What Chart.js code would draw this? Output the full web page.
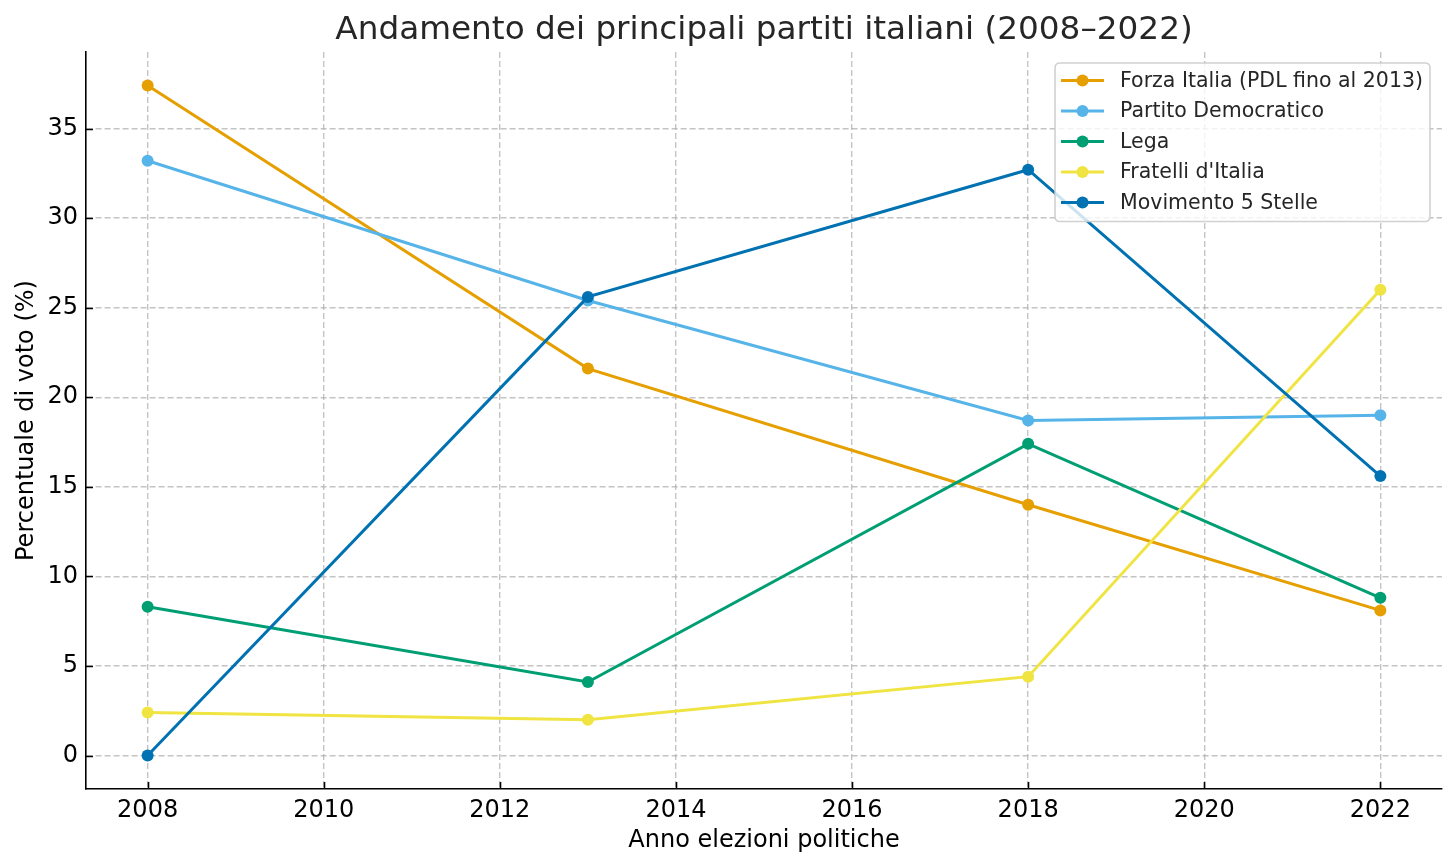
<!DOCTYPE html>
<html>
<head>
<meta charset="utf-8">
<script src="https://cdn.jsdelivr.net/npm/chart.js@4.4.1/dist/chart.umd.min.js"></script>
<style>
  html, body { margin: 0; padding: 0; background: #ffffff; }
  #wrap { width: 1456px; height: 868px; }
</style>
</head>
<body>
<div id="wrap"><canvas id="c" width="1456" height="868"></canvas></div>
<script>
// ---- data ----
const years = [2008, 2013, 2018, 2022];
const seriesNames = ["Forza Italia (PDL fino al 2013)", "Partito Democratico", "Lega", "Fratelli d'Italia", "Movimento 5 Stelle"];
const forzaItalia = [37.4, 21.6, 14.0, 8.1];
const partitoDemocratico = [33.2, 25.4, 18.7, 19.0];
const lega = [8.3, 4.1, 17.4, 8.8];
const fratelliItalia = [2.4, 2.0, 4.4, 26.0];
const movimento5Stelle = [0, 25.6, 32.7, 15.6];
const xTickValues = [2008, 2010, 2012, 2014, 2016, 2018, 2020, 2022];
const yTickValues = [0, 5, 10, 15, 20, 25, 30, 35];
const chartTitle = "Andamento dei principali partiti italiani (2008\u20132022)";
const xTitle = "Anno elezioni politiche";
const yTitle = "Percentuale di voto (%)";

const colors = ["#E69F00", "#56B4E9", "#009E73", "#F0E442", "#0072B2"];
const allSeries = [forzaItalia, partitoDemocratico, lega, fratelliItalia, movimento5Stelle];

const FONT = "'DejaVu Sans', 'Liberation Sans', sans-serif";

const datasets = allSeries.map((vals, i) => ({
  label: seriesNames[i],
  data: years.map((y, k) => ({ x: y, y: vals[k] })),
  borderColor: colors[i],
  backgroundColor: colors[i],
  borderWidth: 3,
  pointRadius: 6,
  pointBorderWidth: 0,
  pointHoverRadius: 6,
  pointBackgroundColor: colors[i],
  tension: 0,
  fill: false,
  order: allSeries.length - i
}));

// inward tick marks (matplotlib style)
const inwardTicks = {
  id: 'inwardTicks',
  afterDraw(chart) {
    const ctx = chart.ctx;
    const xs = chart.scales.x, ys = chart.scales.y;
    const a = chart.chartArea;
    ctx.save();
    ctx.strokeStyle = '#000';
    ctx.lineWidth = 1.6;
    ctx.beginPath();
    xTickValues.forEach(v => {
      const px = Math.round(xs.getPixelForValue(v)) + 0.5;
      ctx.moveTo(px, a.bottom);
      ctx.lineTo(px, a.bottom - 7);
    });
    yTickValues.forEach(v => {
      const py = Math.round(ys.getPixelForValue(v)) + 0.5;
      ctx.moveTo(a.left, py);
      ctx.lineTo(a.left + 7, py);
    });
    ctx.stroke();
    ctx.restore();
  }
};

// matplotlib-like legend box inside the plot, upper right
const boxLegend = {
  id: 'boxLegend',
  afterDraw(chart) {
    const ctx = chart.ctx;
    const a = chart.chartArea;
    ctx.save();
    ctx.font = "20.5px " + FONT;
    let maxW = 0;
    seriesNames.forEach(n => { maxW = Math.max(maxW, ctx.measureText(n).width); });
    const boxRight = a.right - 12;
    const boxTop = a.top + 11;
    const textX = boxRight - 7 - maxW;
    const lineEnd = textX - 16;
    const lineStart = lineEnd - 43;
    const boxLeft = lineStart - 6;
    const rowH = 30.5;
    const firstY = boxTop + 17.5;
    const boxBottom = firstY + rowH * (seriesNames.length - 1) + 19;
    // box
    const r = 5;
    ctx.beginPath();
    ctx.moveTo(boxLeft + r, boxTop);
    ctx.lineTo(boxRight - r, boxTop);
    ctx.quadraticCurveTo(boxRight, boxTop, boxRight, boxTop + r);
    ctx.lineTo(boxRight, boxBottom - r);
    ctx.quadraticCurveTo(boxRight, boxBottom, boxRight - r, boxBottom);
    ctx.lineTo(boxLeft + r, boxBottom);
    ctx.quadraticCurveTo(boxLeft, boxBottom, boxLeft, boxBottom - r);
    ctx.lineTo(boxLeft, boxTop + r);
    ctx.quadraticCurveTo(boxLeft, boxTop, boxLeft + r, boxTop);
    ctx.closePath();
    ctx.fillStyle = 'rgba(255,255,255,0.8)';
    ctx.fill();
    ctx.strokeStyle = 'rgba(204,204,204,0.9)';
    ctx.lineWidth = 1.6;
    ctx.stroke();
    // entries
    seriesNames.forEach((n, i) => {
      const cy = firstY + rowH * i;
      ctx.strokeStyle = colors[i];
      ctx.lineWidth = 3;
      ctx.beginPath();
      ctx.moveTo(lineStart, cy);
      ctx.lineTo(lineEnd, cy);
      ctx.stroke();
      ctx.fillStyle = colors[i];
      ctx.beginPath();
      ctx.arc((lineStart + lineEnd) / 2, cy, 6, 0, Math.PI * 2);
      ctx.fill();
      ctx.fillStyle = '#262626';
      ctx.textAlign = 'left';
      ctx.textBaseline = 'middle';
      ctx.fillText(n, textX, cy + 1);
    });
    ctx.restore();
  }
};

new Chart(document.getElementById('c'), {
  type: 'line',
  data: { datasets },
  options: {
    responsive: false,
    devicePixelRatio: 1,
    animation: false,
    events: [],
    layout: { padding: { left: 0, right: 14, top: 0, bottom: 0 } },
    plugins: {
      legend: { display: false },
      tooltip: { enabled: false },
      title: {
        display: true,
        text: chartTitle,
        fullSize: false,
        color: '#262626',
        font: { family: FONT, size: 32.7, weight: 'normal', lineHeight: 1.2 },
        padding: { top: 11, bottom: 1.8 }
      }
    },
    scales: {
      x: {
        type: 'linear',
        position: 'bottom',
        min: 2007.3,
        max: 2022.7,
        afterBuildTicks: (s) => { s.ticks = xTickValues.map(v => ({ value: v })); },
        afterFit: (s) => { s.height = 79; },
        ticks: {
          color: '#000',
          font: { family: FONT, size: 24 },
          padding: 7,
          maxRotation: 0,
          autoSkip: false,
          callback: (v) => String(v)
        },
        grid: {
          color: 'rgba(176,176,176,0.75)',
          lineWidth: 1.4,
          drawTicks: false
        },
        border: { display: true, color: '#000', width: 1.6, dash: [6, 3] },
        title: {
          display: true,
          text: xTitle,
          color: '#000',
          font: { family: FONT, size: 24, lineHeight: 1.2 },
          padding: { top: 0, bottom: 13 }
        }
      },
      y: {
        type: 'linear',
        position: 'left',
        min: -1.87,
        max: 39.27,
        afterBuildTicks: (s) => { s.ticks = yTickValues.map(v => ({ value: v })); },
        afterFit: (s) => { s.width = 86; },
        ticks: {
          color: '#000',
          font: { family: FONT, size: 24 },
          padding: 8,
          autoSkip: false,
          callback: (v) => String(v)
        },
        grid: {
          color: 'rgba(176,176,176,0.75)',
          lineWidth: 1.4,
          drawTicks: false
        },
        border: { display: true, color: '#000', width: 1.6, dash: [6, 3] },
        title: {
          display: true,
          text: yTitle,
          color: '#000',
          font: { family: FONT, size: 24, lineHeight: 1.2 },
          padding: { top: 12, bottom: 0 }
        }
      }
    }
  },
  plugins: [inwardTicks, boxLegend]
});
</script>
</body>
</html>
